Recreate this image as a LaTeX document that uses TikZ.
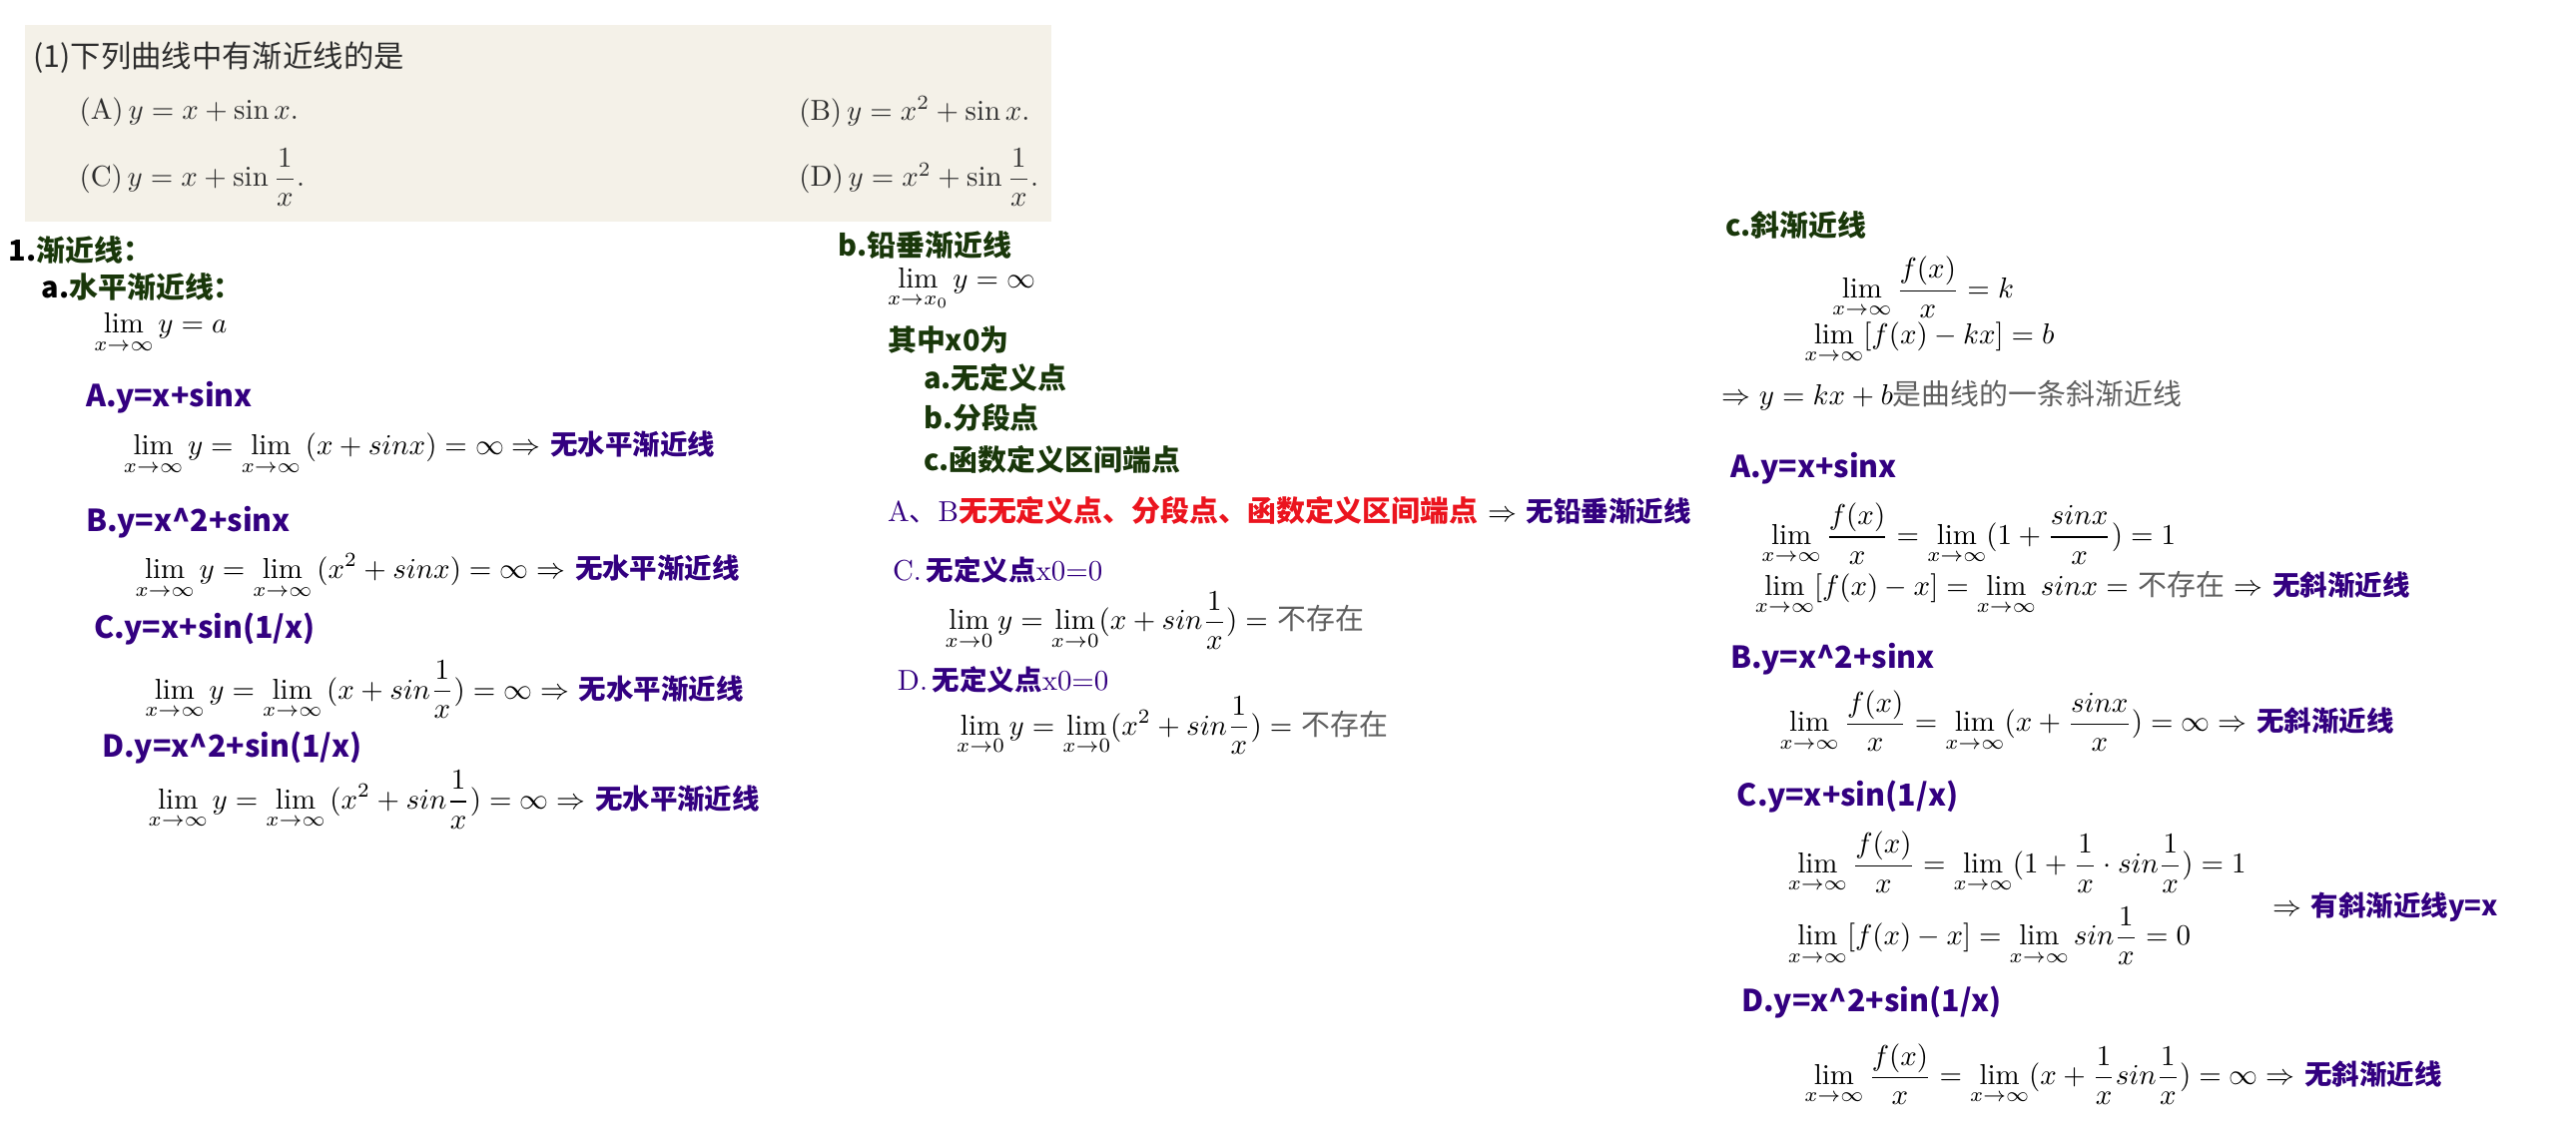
\documentclass[tikz,border=0pt]{standalone}
\usepackage{amsmath}
\usepackage{xcolor}
\usepackage{fontspec}
\newfontfamily\cjk{Noto Sans CJK SC}
\definecolor{indigo}{RGB}{51,0,128}
\definecolor{leafgreen}{RGB}{25,55,10}
\definecolor{alarm}{RGB}{235,20,30}
\definecolor{note}{RGB}{95,95,95}
\definecolor{paper}{RGB}{244,241,232}
\definecolor{ink}{RGB}{45,45,45}
\newcommand{\concl}[1]{{\fontsize{9.5}{11}\selectfont\cjk\bfseries\color{indigo}#1}}
\newcommand{\dimtxt}[1]{{\cjk\color{note}#1}}
\tikzset{
	hdr/.style={anchor=west,inner sep=0pt,text=leafgreen,font=\fontsize{10}{12}\selectfont\cjk\bfseries},
	fn/.style={anchor=west,inner sep=0pt,text=indigo,font=\fontsize{10.5}{12}\selectfont\cjk\bfseries},
	eq/.style={anchor=west,inner sep=0pt,font=\fontsize{10}{12}\selectfont},
	scan/.style={anchor=west,inner sep=0pt,text=ink,font=\fontsize{10}{12}\selectfont},
}

\begin{document}
\begin{tikzpicture}[x=0.02cm,y=-0.02cm]
			\useasboundingbox (0,0) rectangle (1568,690);
			\fill[paper] (15,15) rectangle (640,135);
			\node[scan,font=\fontsize{10.5}{12}\selectfont\cjk] (q) at (20,35) {(1)下列曲线中有渐近线的是};
			\node[scan] (qa) at (48,68) {(A)\,$y=x+\sin x.$};
			\node[scan] (qb) at (486,68) {(B)\,$y=x^2+\sin x.$};
			\node[scan] (qc) at (48,108) {(C)\,$y=x+\sin\dfrac1x.$};
			\node[scan] (qd) at (486,108) {(D)\,$y=x^2+\sin\dfrac1x.$};
			\node[hdr] (asym) at (5,152) {\color{black}1.\color{leafgreen}渐近线：};
			\node[hdr] (horiz) at (25,175) {\color{black}a.\color{leafgreen}水平渐近线：};
			\node[eq] (hdef) at (57,203) {$\displaystyle\lim_{x\to\infty}y=a$};
			\node[fn] (hA) at (52,242) {A.y=x+sinx};
			\node[eq] (hAeq) at (75,276) {$\displaystyle\lim_{x\to\infty}y=\lim_{x\to\infty}\,(x+sinx)=\infty\Rightarrow$ \concl{无水平渐近线}};
			\node[fn] (hB) at (52,318) {B.y=x\textasciicircum2+sinx};
			\node[eq] (hBeq) at (82,351) {$\displaystyle\lim_{x\to\infty}y=\lim_{x\to\infty}\,(x^2+sinx)=\infty\Rightarrow$ \concl{无水平渐近线}};
			\node[fn] (hC) at (57,383) {C.y=x+sin(1/x)};
			\node[eq] (hCeq) at (88,420) {$\displaystyle\lim_{x\to\infty}y=\lim_{x\to\infty}\,(x+sin\frac1x)=\infty\Rightarrow$ \concl{无水平渐近线}};
			\node[fn] (hD) at (62,455) {D.y=x\textasciicircum2+sin(1/x)};
			\node[eq] (hDeq) at (90,487) {$\displaystyle\lim_{x\to\infty}y=\lim_{x\to\infty}\,(x^2+sin\frac1x)=\infty\Rightarrow$ \concl{无水平渐近线}};
			\node[hdr] (vert) at (510,149) {b.铅垂渐近线};
			\node[eq] (vdef) at (540,176) {$\displaystyle\lim_{x\to x_0}y=\infty$};
			\node[hdr] (where) at (540,207) {其中x0为};
			\node[hdr] (va) at (562,230) {a.无定义点};
			\node[hdr] (vb) at (562,254) {b.分段点};
			\node[hdr] (vc) at (562,280) {c.函数定义区间端点};
			\node[eq] (vAB) at (540,311) {{\color{indigo}A{\cjk 、}B}{\cjk\bfseries\color{alarm}无无定义点、分段点、函数定义区间端点} $\Rightarrow$ \concl{无铅垂渐近线}};
			\node[eq] (vC) at (543,347) {\color{indigo}C.\,\concl{无定义点}x0=0};
			\node[eq] (vCeq) at (575,378) {$\displaystyle\lim_{x\to0}y=\lim_{x\to0}(x+sin\frac1x)=$ \dimtxt{不存在}};
			\node[eq] (vD) at (546,414) {\color{indigo}D.\,\concl{无定义点}x0=0};
			\node[eq] (vDeq) at (582,442) {$\displaystyle\lim_{x\to0}y=\lim_{x\to0}(x^2+sin\frac1x)=$ \dimtxt{不存在}};
			\node[hdr] (obl) at (1050,137) {c.斜渐近线};
			\node[eq] (kdef) at (1115,175) {$\displaystyle\lim_{x\to\infty}\frac{f(x)}{x}=k$};
			\node[eq] (bdef) at (1098,209) {$\displaystyle\lim_{x\to\infty}[f(x)-kx]=b$};
			\node[eq] (odef) at (1048,241) {$\Rightarrow y=kx+b$\dimtxt{是曲线的一条斜渐近线}};
			\node[fn] (oA) at (1053,285) {A.y=x+sinx};
			\node[eq] (oAk) at (1072,325) {$\displaystyle\lim_{x\to\infty}\frac{f(x)}{x}=\lim_{x\to\infty}(1+\frac{sinx}{x})=1$};
			\node[eq] (oAb) at (1068,361) {$\displaystyle\lim_{x\to\infty}[f(x)-x]=\lim_{x\to\infty}sinx=$ \dimtxt{不存在} $\Rightarrow$ \concl{无斜渐近线}};
			\node[fn] (oB) at (1053,401) {B.y=x\textasciicircum2+sinx};
			\node[eq] (oBk) at (1083,439) {$\displaystyle\lim_{x\to\infty}\frac{f(x)}{x}=\lim_{x\to\infty}(x+\frac{sinx}{x})=\infty\Rightarrow$ \concl{无斜渐近线}};
			\node[fn] (oC) at (1057,485) {C.y=x+sin(1/x)};
			\node[eq] (oCk) at (1088,525) {$\displaystyle\lim_{x\to\infty}\frac{f(x)}{x}=\lim_{x\to\infty}(1+\frac1x\cdot sin\frac1x)=1$};
			\node[eq] (oCb) at (1088,570) {$\displaystyle\lim_{x\to\infty}[f(x)-x]=\lim_{x\to\infty}sin\frac1x=0$};
			\node[eq] (oCr) at (1383,552) {$\Rightarrow$ \concl{有斜渐近线y=x}};
			\node[fn] (oD) at (1060,610) {D.y=x\textasciicircum2+sin(1/x)};
			\node[eq] (oDk) at (1098,654) {$\displaystyle\lim_{x\to\infty}\frac{f(x)}{x}=\lim_{x\to\infty}(x+\frac1x sin\frac1x)=\infty\Rightarrow$ \concl{无斜渐近线}};
		\end{tikzpicture}
\end{document}
